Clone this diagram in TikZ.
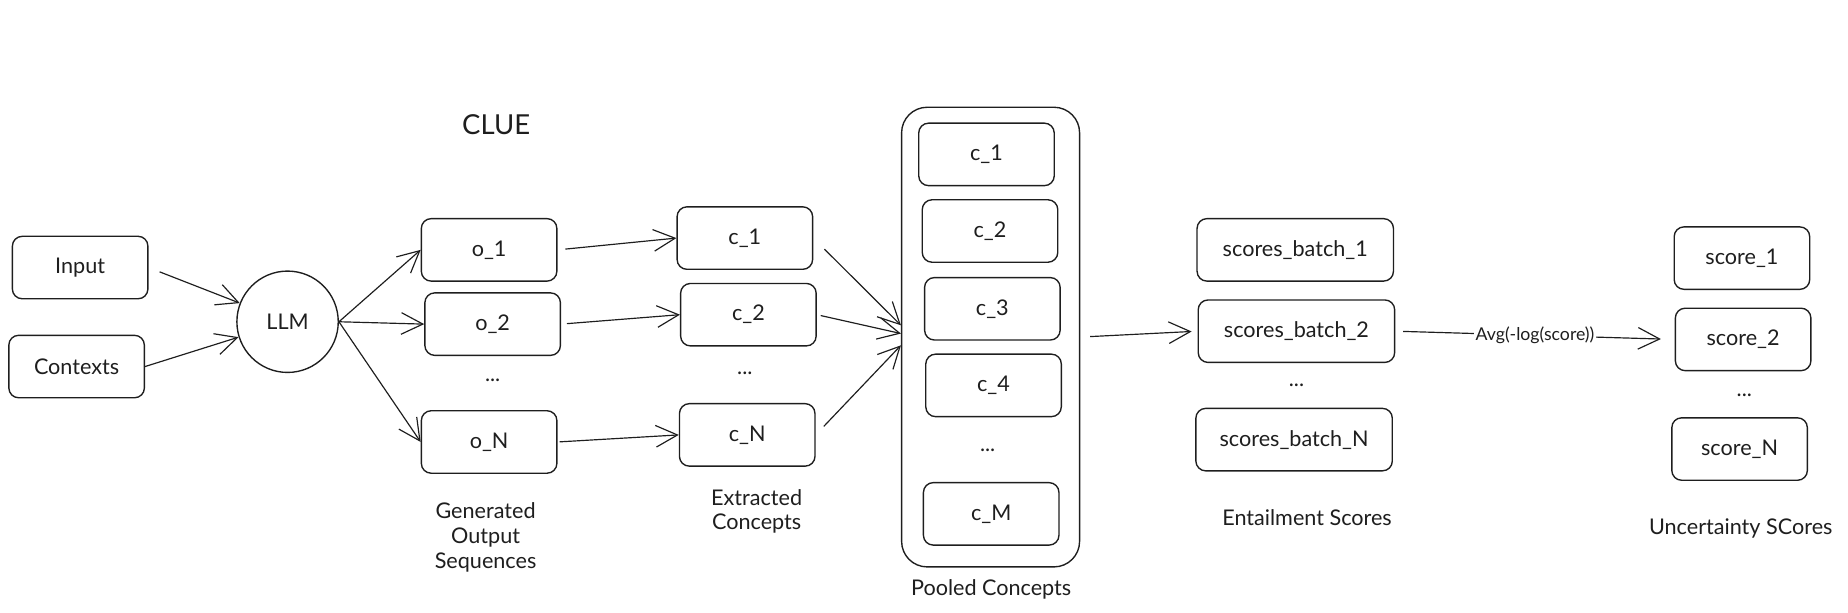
\documentclass[tikz,border=0pt]{standalone}
\usepackage{fontspec}
\setmainfont{Lato}
\usetikzlibrary{arrows.meta,calc}
\definecolor{ink}{HTML}{1E1E1E}
\begin{document}
\begin{tikzpicture}[x=0.6pt,y=-0.6pt,
  box/.style={draw=ink, line width=0.7pt, rounded corners=5pt, minimum width=69pt, minimum height=31.8pt, inner sep=0pt, text=ink, font=\fontsize{11}{13}\selectfont},
  widebox/.style={box, minimum width=100pt},
  plain/.style={text=ink, font=\fontsize{11}{12.6}\selectfont, align=center, inner sep=0pt},
  dots/.style={text=ink, font=\fontsize{11}{13}\selectfont, inner sep=0pt},
  arr/.style={draw=ink, line width=0.6pt, -{Straight Barb[length=11pt,width=11pt,line width=0.6pt]}}
]
\useasboundingbox (0,0) rectangle (1568,520);
% title
\node[text=ink, font=\fontsize{14}{16}\selectfont] (title) at (421,106) {CLUE};
% inputs
\node[box] (in) at (68,227) {Input};
\node[box] (ctx) at (65,311) {Contexts};
\node[draw=ink, line width=0.7pt, circle, minimum size=51.6pt, inner sep=0pt, text=ink, font=\fontsize{11}{13}\selectfont] (llm) at (244,273) {LLM};
% outputs
\node[box] (o1) at (415,212) {o\_1};
\node[box] (o2) at (418,275) {o\_2};
\node[dots] (od) at (418,323) {...};
\node[box] (oN) at (415,375) {o\_N};
\node[plain] (lgen) at (412,456) {Generated\\Output\\Sequences};
% extracted
\node[box] (c1) at (632,202) {c\_1};
\node[box] (c2) at (635,267) {c\_2};
\node[dots] (cd) at (632,317) {...};
\node[box] (cN) at (634,369) {c\_N};
\node[plain] (lext) at (642,434) {Extracted\\Concepts};
% pooled
\node[draw=ink, line width=0.7pt, rounded corners=13pt, minimum width=90.6pt, minimum height=234pt, inner sep=0pt] (pool) at (840.5,286) {};
\node[box] (p1) at (837,131) {c\_1};
\node[box] (p2) at (840,196) {c\_2};
\node[box] (p3) at (842,262) {c\_3};
\node[box] (p4) at (843,327) {c\_4};
\node[dots] (pd) at (838,382) {...};
\node[box] (pM) at (841,436) {c\_M};
\node[plain] (lpool) at (841,500) {Pooled Concepts};
% entailment
\node[widebox] (sb1) at (1099,212) {scores\_batch\_1};
\node[widebox] (sb2) at (1100,281) {scores\_batch\_2};
\node[dots] (sbd) at (1100,327) {...};
\node[widebox] (sbN) at (1098,373) {scores\_batch\_N};
\node[plain] (lent) at (1109,439) {Entailment Scores};
% uncertainty
\node[box] (s1) at (1478,219) {score\_1};
\node[box] (s2) at (1479,288) {score\_2};
\node[dots] (sd) at (1480,335) {...};
\node[box] (sN) at (1476,381) {score\_N};
\node[plain] (lunc) at (1477,448) {Uncertainty SCores};
% arrows
\draw[arr, shorten <=6pt] (in.east) -- (llm);
\draw[arr] (ctx.east) -- (llm);
\draw[arr] (llm.east) -- (o1.west);
\draw[arr] (llm.east) -- (o2.west);
\draw[arr] (llm.east) -- (oN.west);
\draw[arr, shorten <=4pt] (o1.east) -- (c1.west);
\draw[arr, shorten <=3pt] (o2.east) -- (c2.west);
\draw[arr, shorten <=1pt] (oN.east) -- (cN.west);
\draw[arr, shorten <=8pt] (c1.east) -- ($(pool.west)+(0,-10)$);
\draw[arr, shorten <=2pt] (c2.east) -- ($(pool.west)+(0,-3)$);
\draw[arr, shorten <=6pt] (cN.east) -- ($(pool.west)+(0,7)$);
\draw[arr, shorten <=5pt, shorten >=3pt] (pool.east) -- (sb2.west);
\draw[arr, shorten <=4pt, shorten >=7pt] (sb2.east) -- node[fill=white, inner sep=1pt, text=ink, font=\fontsize{9}{10}\selectfont] (avg) {Avg(-log(score))} (s2.west);
\end{tikzpicture}
\end{document}
